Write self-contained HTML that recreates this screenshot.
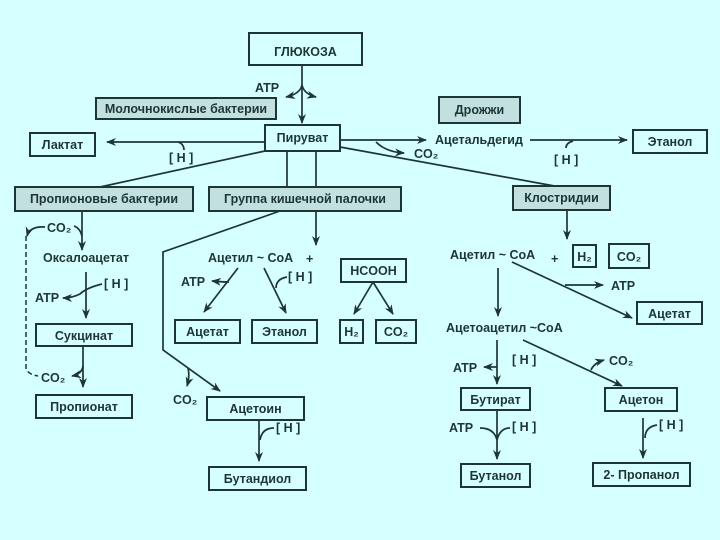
<!DOCTYPE html>
<html><head><meta charset="utf-8"><style>
html,body{margin:0;padding:0;background:#d6ffff;}
svg{display:block}
text{font-family:"Liberation Sans",sans-serif;font-weight:bold;fill:#1e3535;font-size:12.5px}
.b{fill:none;stroke:#1e3535;stroke-width:2}
.s{fill:#c2e0e0;stroke:#1e3535;stroke-width:2}
.l{fill:none;stroke:#1e3535;stroke-width:1.7}
</style></head><body>
<svg width="720" height="540" viewBox="0 0 720 540" xmlns="http://www.w3.org/2000/svg">
<defs><marker id="a" markerWidth="10" markerHeight="8" refX="9" refY="4" orient="auto" markerUnits="userSpaceOnUse"><path d="M0,0 L10,4 L0,8 L3,4z" fill="#1e3535"/></marker></defs>

<rect class="b" x="249" y="33" width="113" height="32"/>
<text x="305.5" y="56" text-anchor="middle" font-size="17">ГЛЮКОЗА</text>
<line class="l" x1="302" y1="65" x2="302" y2="123" marker-end="url(#a)"/>
<path class="l" d="M302,85 Q300,94 286,97" marker-end="url(#a)"/>
<path class="l" d="M302,85 Q304,94 316,97" marker-end="url(#a)"/>
<text x="255" y="92">ATP</text>
<rect class="s" x="96" y="98" width="180" height="21"/>
<text x="186" y="113" text-anchor="middle">Молочнокислые бактерии</text>
<rect class="s" x="439" y="97" width="81" height="26"/>
<text x="479.5" y="114" text-anchor="middle">Дрожжи</text>
<rect class="b" x="265" y="125" width="75" height="26"/>
<text x="302.5" y="142" text-anchor="middle">Пируват</text>

<rect class="b" x="30" y="133" width="65" height="23"/>
<text x="62.5" y="149" text-anchor="middle">Лактат</text>
<line class="l" x1="265" y1="142" x2="107" y2="142" marker-end="url(#a)"/>
<path class="l" d="M178,142 Q184,144 184,150"/>
<text x="169" y="162" font-weight="normal">[ H ]</text>

<line class="l" x1="340" y1="140" x2="426" y2="140" marker-end="url(#a)"/>
<path class="l" d="M376,142 Q386,152 404,153" marker-end="url(#a)"/>
<text x="414" y="158" font-weight="normal">CO₂</text>
<text x="435" y="144">Ацетальдегид</text>
<line class="l" x1="530" y1="140" x2="627" y2="140" marker-end="url(#a)"/>
<path class="l" d="M573,141 Q566,143 566,148"/>
<text x="554" y="164" font-weight="normal">[ H ]</text>
<rect class="b" x="633" y="130" width="74" height="23"/>
<text x="670" y="146" text-anchor="middle">Этанол</text>

<line class="l" x1="340" y1="147" x2="560" y2="187"/>
<line class="l" x1="265" y1="151" x2="100" y2="187"/>
<line class="l" x1="287" y1="151" x2="287" y2="187"/>
<line class="l" x1="316" y1="151" x2="316" y2="187"/>

<rect class="s" x="15" y="187" width="178" height="24"/>
<text x="104" y="203" text-anchor="middle">Пропионовые бактерии</text>
<rect class="s" x="209" y="187" width="192" height="24"/>
<text x="305" y="203" text-anchor="middle">Группа кишечной палочки</text>
<rect class="s" x="513" y="186" width="97" height="24"/>
<text x="561.5" y="202" text-anchor="middle">Клостридии</text>

<line class="l" x1="82" y1="211" x2="82" y2="250" marker-end="url(#a)"/>
<path class="l" d="M74,226 Q80,228 82,236"/>
<text x="47" y="232">CO₂</text>
<path class="l" d="M45,227 Q30,226 27,236" marker-end="url(#a)"/>
<path d="M26,236 L26,368 Q27,374 38,376" fill="none" stroke="#1e3535" stroke-width="1.5" stroke-dasharray="5,3"/>
<text x="86" y="262" text-anchor="middle">Оксалоацетат</text>
<line class="l" x1="86" y1="272" x2="86" y2="318" marker-end="url(#a)"/>
<path class="l" d="M102,284 Q86,288 80,294 Q72,298 63,298" marker-end="url(#a)"/>
<text x="104" y="288" font-weight="normal">[ H ]</text>
<text x="35" y="302">ATP</text>
<rect class="b" x="36" y="324" width="96" height="22"/>
<text x="84" y="340" text-anchor="middle">Сукцинат</text>
<line class="l" x1="83" y1="346" x2="83" y2="387" marker-end="url(#a)"/>
<path class="l" d="M83,366 Q82,374 72,376" marker-end="url(#a)"/>
<text x="41" y="382">CO₂</text>
<rect class="b" x="36" y="395" width="96" height="23"/>
<text x="84" y="411" text-anchor="middle">Пропионат</text>

<path class="l" d="M280,211 L163,252 L163,350 L220,391" marker-end="url(#a)"/>
<path class="l" d="M188,368 Q190,376 187,386" marker-end="url(#a)"/>
<text x="173" y="404">CO₂</text>
<rect class="b" x="207" y="397" width="97" height="23"/>
<text x="255.5" y="413" text-anchor="middle">Ацетоин</text>
<line class="l" x1="259" y1="420" x2="259" y2="461" marker-end="url(#a)"/>
<path class="l" d="M274,428 Q262,428 260,440"/>
<text x="276" y="432" font-weight="normal">[ H ]</text>
<rect class="b" x="209" y="467" width="97" height="23"/>
<text x="257.5" y="483" text-anchor="middle">Бутандиол</text>

<line class="l" x1="316" y1="211" x2="316" y2="245" marker-end="url(#a)"/>
<text x="208" y="262" font-weight="normal">Ацетил ~ CoA</text>
<text x="306" y="263" font-size="18">+</text>
<line class="l" x1="238" y1="268" x2="204" y2="312" marker-end="url(#a)"/>
<path class="l" d="M229,282 Q222,282 212,281" marker-end="url(#a)"/>
<text x="181" y="286">ATP</text>
<line class="l" x1="264" y1="268" x2="286" y2="313" marker-end="url(#a)"/>
<path class="l" d="M287,277 Q276,279 276,288"/>
<text x="288" y="281" font-weight="normal">[ H ]</text>
<rect class="b" x="175" y="320" width="65" height="23"/>
<text x="207.5" y="336" text-anchor="middle">Ацетат</text>
<rect class="b" x="252" y="320" width="65" height="23"/>
<text x="284.5" y="336" text-anchor="middle" font-weight="normal">Этанол</text>
<rect class="b" x="341" y="259" width="65" height="23"/>
<text x="373.5" y="275" text-anchor="middle" font-weight="normal">HCOOH</text>
<line class="l" x1="373" y1="282" x2="354" y2="314" marker-end="url(#a)"/>
<line class="l" x1="373" y1="282" x2="393" y2="314" marker-end="url(#a)"/>
<rect class="b" x="340" y="320" width="23" height="23"/>
<text x="351.5" y="336" text-anchor="middle">H₂</text>
<rect class="b" x="376" y="320" width="40" height="23"/>
<text x="396" y="336" text-anchor="middle">CO₂</text>

<line class="l" x1="567" y1="210" x2="567" y2="239" marker-end="url(#a)"/>
<text x="450" y="259" font-weight="normal">Ацетил ~ CoA</text>
<text x="551" y="263" font-size="18">+</text>
<rect class="b" x="573" y="245" width="23" height="22"/>
<text x="584.5" y="261" text-anchor="middle">H₂</text>
<rect class="b" x="609" y="244" width="40" height="24"/>
<text x="629" y="261" text-anchor="middle">CO₂</text>
<line class="l" x1="512" y1="262" x2="632" y2="318" marker-end="url(#a)"/>
<line class="l" x1="565" y1="285" x2="603" y2="285" marker-end="url(#a)"/>
<text x="611" y="290">ATP</text>
<rect class="b" x="637" y="302" width="65" height="22"/>
<text x="669.5" y="318" text-anchor="middle">Ацетат</text>
<line class="l" x1="498" y1="268" x2="498" y2="316" marker-end="url(#a)"/>
<text x="446" y="332">Ацетоацетил ~CoA</text>
<line class="l" x1="497" y1="340" x2="497" y2="384" marker-end="url(#a)"/>
<line class="l" x1="497" y1="367" x2="484" y2="367" marker-end="url(#a)"/>
<text x="453" y="372">ATP</text>
<text x="512" y="364" font-weight="normal">[ H ]</text>
<line class="l" x1="523" y1="340" x2="622" y2="386" marker-end="url(#a)"/>
<path class="l" d="M591,370 Q594,363 604,360" marker-end="url(#a)"/>
<text x="609" y="365">CO₂</text>
<rect class="b" x="461" y="388" width="69" height="22"/>
<text x="495.5" y="404" text-anchor="middle">Бутират</text>
<rect class="b" x="605" y="388" width="72" height="23"/>
<text x="641" y="404" text-anchor="middle">Ацетон</text>
<line class="l" x1="497" y1="410" x2="497" y2="459" marker-end="url(#a)"/>
<path class="l" d="M480,428 Q494,428 497,440"/>
<path class="l" d="M510,428 Q500,428 497,440"/>
<text x="449" y="432">ATP</text>
<text x="512" y="431" font-weight="normal">[ H ]</text>
<line class="l" x1="643" y1="418" x2="643" y2="458" marker-end="url(#a)"/>
<path class="l" d="M657,425 Q645,427 645,438"/>
<text x="659" y="429" font-weight="normal">[ H ]</text>
<rect class="b" x="461" y="464" width="69" height="23"/>
<text x="495.5" y="480" text-anchor="middle">Бутанол</text>
<rect class="b" x="593" y="463" width="97" height="23"/>
<text x="641.5" y="479" text-anchor="middle">2- Пропанол</text>
</svg>
</body></html>
